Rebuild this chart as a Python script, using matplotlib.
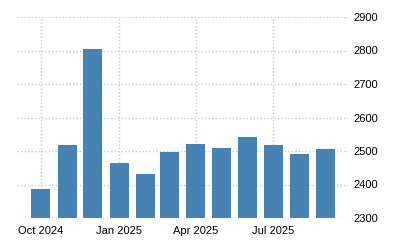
import pandas as pd
import matplotlib.pyplot as plt
import matplotlib.dates as mdates

months = pd.date_range("2024-10-01", periods=12, freq="MS")
values = [2387, 2518, 2805, 2464, 2431, 2497, 2521, 2509, 2542, 2518, 2491, 2506]
tick_dates = pd.to_datetime(["2024-10-01", "2025-01-01", "2025-04-01", "2025-07-01"])
tick_labels = ["Oct 2024", "Jan 2025", "Apr 2025", "Jul 2025"]
y_ticks = [2300, 2400, 2500, 2600, 2700, 2800, 2900]

plt.rcParams["font.family"] = ["Liberation Sans", "DejaVu Sans"]

fig = plt.figure(figsize=(4, 2.5), dpi=100)
ax = fig.add_axes([0.0425, 0.128, 0.8275, 0.804])

ax.bar(months, values, width=22.3, color="#4682b4", zorder=2)

ax.set_xlim(pd.Timestamp("2024-09-03"), pd.Timestamp("2025-09-27"))
ax.set_ylim(2300, 2900)
ax.set_xticks(tick_dates)
ax.set_xticklabels(tick_labels)
ax.set_yticks(y_ticks)
ax.yaxis.tick_right()

ax.grid(True, color="#cccccc", linestyle=(0, (1, 1.5)), linewidth=1, zorder=0)
for s in ax.spines.values():
    s.set_visible(False)
ax.tick_params(axis="both", length=0, labelsize=8, colors="#000000")
ax.tick_params(axis="x", pad=6)
ax.tick_params(axis="y", pad=4)

fig.savefig("out.png", dpi=100)
